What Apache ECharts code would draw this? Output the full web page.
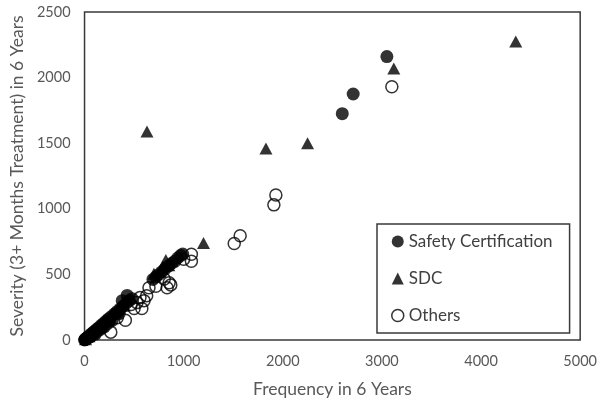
<!DOCTYPE html>
<html>
<head>
<meta charset="utf-8">
<script src="https://cdn.jsdelivr.net/npm/echarts@6/dist/echarts.min.js"></script>
<style>
  html, body { margin: 0; padding: 0; background: #fff; }
  #chart { width: 600px; height: 403px; }
</style>
</head>
<body>
<div id="chart"></div>
<script>
// Frequency (x) and severity (y) of accidents per group over 6 years
var safetyX = [0, 5, 12, 20, 30, 40, 55, 60, 70, 85, 100, 110, 120, 140, 160, 165, 190, 200, 215, 240, 250, 270, 280,
               300, 330, 350, 360, 380, 390, 420, 430, 450, 480,
               690, 720, 750, 780, 810, 850, 880, 910, 940, 970, 990, 2600, 2710, 3050];
var safetyY = [0, 3, 8, 14, 20, 27, 36, 25, 47, 56, 66, 45, 80, 92, 80, 110, 125, 100, 142, 160, 140, 178, 150,
               198, 218, 200, 238, 300, 258, 280, 340, 300, 315,
               462, 480, 500, 520, 540, 565, 585, 600, 625, 645, 655, 1725, 1875, 2160];

var sdcX = [10, 45, 90, 150, 200, 230, 280, 320, 350, 400, 700, 760, 790, 820, 850, 1200, 630, 1830, 2250, 3120, 4350];
var sdcY = [6, 28, 58, 95, 150, 150, 200, 210, 250, 262, 505, 520, 560, 610, 570, 740, 1590, 1460, 1500, 2070, 2275];

var othersX = [10, 40, 80, 130, 180, 230, 265, 330, 412, 470, 500, 529, 559, 578, 600, 627, 650, 720,
               804, 833, 853, 870, 1000, 1078, 1078, 1510, 1570, 1910, 1930, 3100];
var othersY = [5, 20, 40, 70, 100, 125, 60, 170, 150, 270, 240, 285, 323, 240, 300, 338, 398, 410,
               465, 398, 436, 420, 616, 653, 600, 735, 795, 1030, 1105, 1930];

var xTicks = { min: 0, max: 5000, interval: 1000 };
var yTicks = { min: 0, max: 2500, interval: 500 };

function pairs(xs, ys) {
  return xs.map(function (x, i) { return [x, ys[i]]; });
}
function plain(v) { return String(v); }

var FONT = 'Lato';
var chart = echarts.init(document.getElementById('chart'), null, { renderer: 'canvas' });

chart.setOption({
  animation: false,
  backgroundColor: '#ffffff',
  textStyle: { fontFamily: FONT },
  grid: {
    left: 73, right: 17, top: 12, bottom: 58,
    show: true, borderColor: '#3a3a3a', borderWidth: 1.5, backgroundColor: 'transparent'
  },
  legend: {
    orient: 'vertical',
    left: 377, top: 224,
    padding: [9, 17, 9, 14],
    itemGap: 20,
    itemWidth: 12, itemHeight: 12,
    borderColor: '#3a3a3a', borderWidth: 1.5,
    backgroundColor: '#fff',
    textStyle: { color: '#404040', fontSize: 17, fontFamily: FONT },
    data: [
      { name: 'Safety Certification', icon: 'circle', itemStyle: { color: '#000' } },
      { name: 'SDC', icon: 'triangle', itemStyle: { color: '#000' } },
      { name: 'Others', icon: 'circle', itemStyle: { color: '#fff', borderColor: '#000', borderWidth: 1.5 } }
    ]
  },
  xAxis: {
    type: 'value',
    min: xTicks.min, max: xTicks.max, interval: xTicks.interval,
    name: 'Frequency in 6 Years',
    nameLocation: 'middle', nameGap: 40,
    nameTextStyle: { color: '#595959', fontSize: 17.5, fontFamily: FONT },
    axisLine: { show: false },
    axisTick: { show: false },
    splitLine: { show: false },
    axisLabel: { color: '#595959', fontSize: 14.5, margin: 14, fontFamily: FONT, formatter: plain }
  },
  yAxis: {
    type: 'value',
    min: yTicks.min, max: yTicks.max, interval: yTicks.interval,
    name: 'Severity (3+ Months Treatment) in 6 Years',
    nameLocation: 'middle', nameGap: 57,
    nameTextStyle: { color: '#595959', fontSize: 17.5, fontFamily: FONT },
    axisLine: { show: false },
    axisTick: { show: false },
    splitLine: { show: false },
    axisLabel: { color: '#595959', fontSize: 14.5, margin: 14, fontFamily: FONT, formatter: plain }
  },
  series: [
    {
      name: 'Safety Certification', type: 'scatter',
      symbol: 'circle', symbolSize: 13,
      itemStyle: { color: '#000', borderWidth: 0 },
      data: pairs(safetyX, safetyY), z: 2
    },
    {
      name: 'SDC', type: 'scatter',
      symbol: 'triangle', symbolSize: [13, 12],
      itemStyle: { color: '#000', borderWidth: 0 },
      data: pairs(sdcX, sdcY), z: 3
    },
    {
      name: 'Others', type: 'scatter',
      symbol: 'circle', symbolSize: 12,
      itemStyle: { color: 'rgba(255,255,255,0)', borderColor: '#000', borderWidth: 1.5 },
      data: pairs(othersX, othersY), z: 4
    }
  ]
});
</script>
</body>
</html>
